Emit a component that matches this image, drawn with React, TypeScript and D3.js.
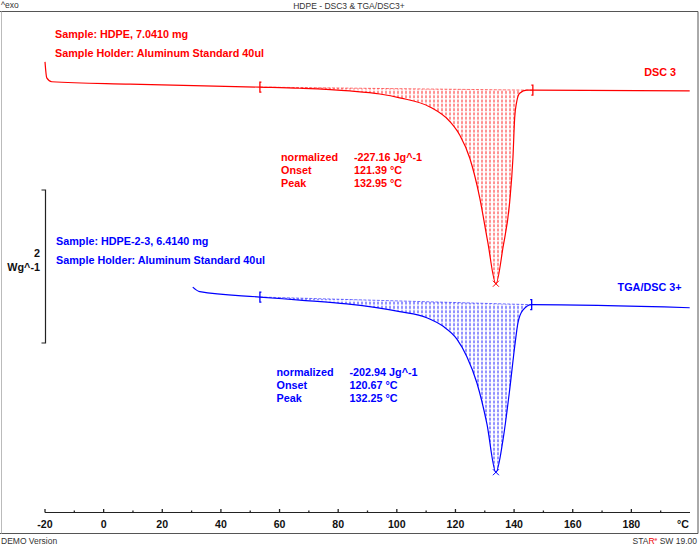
import React, { useEffect, useRef } from "react";
import * as d3 from "d3";

// DSC 3 (red) - temperature in °C, heat flow in W/g (relative to its start)
const redTemps = [-20, -19.4, -17.7, 9, 53.3, 66.9, 84, 94.2, 101, 111.3, 118.1, 121.5, 124.9, 128.3, 131, 133.8, 136.2, 138.5, 139.6, 140.2, 140.9, 141.9, 144.3, 146.4, 199.9];
const redValues = [0.25, 0.04, -0.01, -0.04, -0.08, -0.095, -0.13, -0.17, -0.22, -0.34, -0.53, -0.71, -1.01, -1.53, -2.1, -2.65, -2.18, -1.58, -1.01, -0.48, -0.27, -0.16, -0.12, -0.12, -0.13];
const redLimits = [53.3, 146.4];

// TGA/DSC 3+ (blue)
const blueTemps = [30.4, 32.8, 53.3, 66.9, 82.9, 101, 110.2, 115.7, 120.5, 123.9, 127.3, 130.7, 133.8, 136.2, 138.5, 140.2, 141.3, 143, 146, 199.9];
const blueValues = [0.09, 0.03, -0.04, -0.08, -0.13, -0.23, -0.31, -0.42, -0.59, -0.82, -1.16, -1.69, -2.33, -1.91, -1.25, -0.69, -0.38, -0.21, -0.14, -0.18];
const blueLimits = [53.3, 146.0];

// vertical display offsets of the curves (W/g)
const offsets = [0, -2.784];

const majorTicks = [-20, 0, 20, 40, 60, 80, 100, 120, 140, 160, 180];
const minorTicks = [-10, 10, 30, 50, 70, 90, 110, 130, 150, 170, 190];

const redInfo = ["Sample: HDPE, 7.0410 mg", "Sample Holder: Aluminum Standard 40ul"];
const blueInfo = ["Sample: HDPE-2-3, 6.4140 mg", "Sample Holder: Aluminum Standard 40ul"];
const resultLabels = ["normalized", "Onset", "Peak"];
const redResults = ["-227.16 Jg^-1", "121.39 °C", "132.95 °C"];
const blueResults = ["-202.94 Jg^-1", "120.67 °C", "132.25 °C"];

const FONT = "'Liberation Sans', Arial, sans-serif";

const App = () => {
  const ref = useRef<SVGSVGElement>(null);

  useEffect(() => {
    draw();
  }, []);

  const draw = () => {
    const svg = d3.select(ref.current);
    svg.selectAll("*").remove();

    const x = d3.scaleLinear().domain([-20, 200]).range([45, 690]);
    const y = d3.scaleLinear().domain([0, -1]).range([81, 157.5]);

    const defs = svg.append("defs");
    const hatch = (id: string, color: string) => {
      const p = defs
        .append("pattern")
        .attr("id", id)
        .attr("patternUnits", "userSpaceOnUse")
        .attr("width", 4)
        .attr("height", 4.3);
      p.append("rect")
        .attr("x", 1.4)
        .attr("y", 0.6)
        .attr("width", 1.2)
        .attr("height", 3)
        .attr("fill", color)
        .attr("opacity", 0.7);
    };
    hatch("hatch-red", "#ff0000");
    hatch("hatch-blue", "#0000ff");

    // frame
    svg.append("line").attr("x1", 0).attr("x2", 698).attr("y1", 11.5).attr("y2", 11.5).attr("stroke", "#555");
    svg.append("line").attr("x1", 698).attr("x2", 698).attr("y1", 11.5).attr("y2", 533.5).attr("stroke", "#555");
    svg.append("line").attr("x1", 0).attr("x2", 698).attr("y1", 533.5).attr("y2", 533.5).attr("stroke", "#555");
    svg.append("line").attr("x1", 1.5).attr("x2", 1.5).attr("y1", 11.5).attr("y2", 533.5).attr("stroke", "#bbb");

    svg.append("text").attr("x", 1).attr("y", 8).attr("font-family", FONT).attr("font-size", 8.5).attr("fill", "#333").text("^exo");
    svg.append("text").attr("x", 349).attr("y", 8.5).attr("text-anchor", "middle").attr("font-family", FONT).attr("font-size", 8.5).attr("fill", "#333").text("HDPE - DSC3 & TGA/DSC3+");
    svg.append("text").attr("x", 1).attr("y", 544).attr("font-family", FONT).attr("font-size", 8.5).attr("fill", "#333").text("DEMO Version");
    const star = svg.append("text").attr("x", 697).attr("y", 544).attr("text-anchor", "end").attr("font-family", FONT).attr("font-size", 8.5).attr("fill", "#333");
    star.append("tspan").text("STA");
    star.append("tspan").attr("fill", "#e00").text("R");
    star.append("tspan").attr("fill", "#e00").attr("font-size", 5).attr("dy", -3).text("e");
    star.append("tspan").attr("dy", 3).text(" SW 19.00");

    // x axis
    const axisY = 512.5;
    const axis = svg.append("g");
    axis.append("line").attr("x1", x(-20)).attr("x2", x(200)).attr("y1", axisY).attr("y2", axisY).attr("stroke", "#222").attr("stroke-width", 1);
    axis.selectAll(".maj").data(majorTicks).join("line")
      .attr("x1", (d) => x(d)).attr("x2", (d) => x(d))
      .attr("y1", axisY - 3.5).attr("y2", axisY).attr("stroke", "#222").attr("stroke-width", 1.3);
    axis.selectAll(".min").data(minorTicks).join("line")
      .attr("x1", (d) => x(d)).attr("x2", (d) => x(d))
      .attr("y1", axisY - 2).attr("y2", axisY + 0.5).attr("stroke", "#222").attr("stroke-width", 1.3);
    axis.selectAll(".lab").data(majorTicks).join("text")
      .attr("x", (d) => x(d)).attr("y", 528)
      .attr("text-anchor", "middle").attr("font-family", FONT).attr("font-weight", "bold")
      .attr("font-size", 10.6).attr("fill", "#111").text((d) => String(d));
    axis.append("text").attr("x", 683).attr("y", 528).attr("text-anchor", "middle").attr("font-family", FONT)
      .attr("font-weight", "bold").attr("font-size", 10.6).attr("fill", "#111").text("°C");

    // scale bar 2 W/g
    const barTop = -1.425;
    const bar = svg.append("g");
    bar.append("path")
      .attr("d", `M41.5,${y(barTop)}H45.5V${y(barTop - 2)}H41.5`)
      .attr("fill", "none").attr("stroke", "#222").attr("stroke-width", 1.2);
    bar.append("text").attr("x", 40).attr("y", 257).attr("text-anchor", "end").attr("font-family", FONT)
      .attr("font-weight", "bold").attr("font-size", 10.8).attr("fill", "#111").text("2");
    bar.append("text").attr("x", 40).attr("y", 270.5).attr("text-anchor", "end").attr("font-family", FONT)
      .attr("font-weight", "bold").attr("font-size", 10.8).attr("fill", "#111").text("Wg^-1");

    const series = [
      { id: "red", temps: redTemps, values: redValues, limits: redLimits, offset: offsets[0], color: "#ff0000" },
      { id: "blue", temps: blueTemps, values: blueValues, limits: blueLimits, offset: offsets[1], color: "#0000ff" },
    ];

    series.forEach((s) => {
      const pts: [number, number][] = s.temps.map((t, i) => [t, s.values[i]]);
      const valAt = (t: number) => s.values[s.temps.indexOf(t)];
      const t0 = s.limits[0];
      const t1 = s.limits[1];
      const v0 = valAt(t0);
      const v1 = valAt(t1);
      const base = (t: number) => v0 + ((v1 - v0) * (t - t0)) / (t1 - t0);
      const inside = pts.filter((d) => d[0] >= t0 && d[0] <= t1);

      // hatched integration area
      svg.append("path")
        .datum(inside)
        .attr("fill", `url(#hatch-${s.id})`)
        .attr(
          "d",
          d3.area<[number, number]>()
            .curve(d3.curveMonotoneX)
            .x((d) => x(d[0]))
            .y0((d) => y(base(d[0]) + s.offset))
            .y1((d) => y(d[1] + s.offset)) as any
        );

      // baseline
      svg.append("line")
        .attr("x1", x(t0)).attr("x2", x(t1))
        .attr("y1", y(v0 + s.offset)).attr("y2", y(v1 + s.offset))
        .attr("stroke", s.color).attr("stroke-opacity", 0.55).attr("stroke-dasharray", "3,1.5");

      // curve
      svg.append("path")
        .datum(pts)
        .attr("fill", "none")
        .attr("stroke", s.color)
        .attr("stroke-width", 1.2)
        .attr(
          "d",
          d3.line<[number, number]>()
            .curve(d3.curveMonotoneX)
            .x((d) => x(d[0]))
            .y((d) => y(d[1] + s.offset)) as any
        );

      // limit markers
      s.limits.forEach((t, k) => {
        const cx = x(t);
        const cy = y(valAt(t) + s.offset);
        const sg = k === 0 ? 1.5 : -1.5;
        svg.append("path")
          .attr("d", `M${cx + sg},${cy - 5}H${cx}V${cy + 5}H${cx + sg}`)
          .attr("fill", "none").attr("stroke", s.color).attr("stroke-width", 1.3);
      });

      // peak marker
      const peak = pts.reduce((a, b) => (b[1] < a[1] ? b : a));
      const px = x(peak[0]);
      const py = y(peak[1] + s.offset);
      svg.append("path")
        .attr("d", `M${px - 3},${py - 3}L${px + 3},${py + 3}M${px - 3},${py + 3}L${px + 3},${py - 3}`)
        .attr("stroke", s.color).attr("stroke-width", 1);
    });

    const textBlock = (lines: string[], x0: number, y0: number, dy: number, color: string, anchor = "start") => {
      lines.forEach((l, i) => {
        svg.append("text").attr("x", x0).attr("y", y0 + i * dy).attr("text-anchor", anchor)
          .attr("font-family", FONT).attr("font-weight", "bold").attr("font-size", 10.8)
          .attr("fill", color).text(l);
      });
    };

    textBlock(redInfo, 55, 38, 19, "#ff0000");
    textBlock(["DSC 3"], 676, 75.5, 0, "#ff0000", "end");
    textBlock(resultLabels, 281, 160.5, 13.3, "#ff0000");
    textBlock(redResults, 354, 160.5, 13.3, "#ff0000");

    textBlock(blueInfo, 56, 244.5, 19.3, "#0000ff");
    textBlock(["TGA/DSC 3+"], 681.5, 290.5, 0, "#0000ff", "end");
    textBlock(resultLabels, 276.5, 375.5, 13.3, "#0000ff");
    textBlock(blueResults, 349.5, 375.5, 13.3, "#0000ff");
  };

  return <svg ref={ref} width={700} height={546} style={{ position: "absolute", left: 0, top: 0, background: "#fff" }} />;
};

export default App;
